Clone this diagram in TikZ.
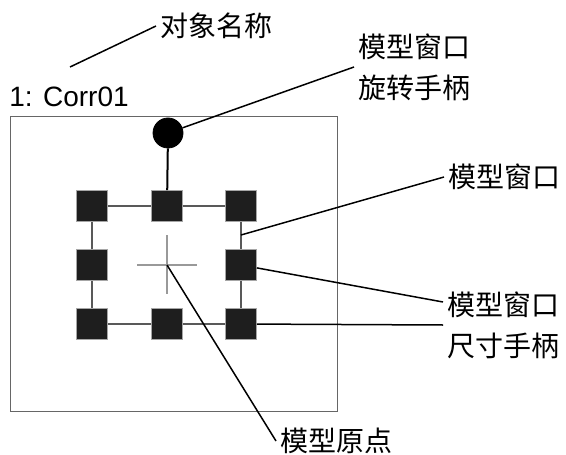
\documentclass[tikz,border=0pt]{standalone}
\usepackage{fontspec}
\setmainfont{Liberation Sans}
\newfontfamily\cjk{Noto Sans CJK SC}
\usepackage{tikz}
\usetikzlibrary{positioning}
\definecolor{ink}{HTML}{1E1E1E}

\begin{document}
\begin{tikzpicture}[
  x=0.5pt, y=-0.5pt,
  handle/.style={rectangle, draw=gray!70, line width=0.3pt, fill=ink, minimum size=15.5pt, inner sep=0pt},
  rotknob/.style={circle, draw=black, fill=black, minimum size=15pt, inner sep=0pt},
  frame/.style={draw=gray!80!black, line width=0.5pt},
  edge/.style={draw=gray!70!black, line width=0.6pt},
  leader/.style={draw=black, line width=0.75pt},
  lbl/.style={anchor=west, font=\fontsize{14}{20.5}\selectfont\cjk, align=left, inner sep=2pt}
]
  \useasboundingbox (0,0) rectangle (566,454);

  % Object frame and name
  \draw[frame] (10,117) rectangle (337,411);
  \node[anchor=west, font=\fontsize{14}{17}\selectfont, inner sep=0pt] (objname) at (9,97) {1: Corr01};

  % Size handles
  \node[handle] (nw) at (92,206) {};
  \node[handle] (n)  at (167,206) {};
  \node[handle] (ne) at (241,206) {};
  \node[handle] (w)  at (92,265) {};
  \node[handle] (e)  at (241,265) {};
  \node[handle] (sw) at (92,324) {};
  \node[handle] (s)  at (167,324) {};
  \node[handle] (se) at (241,324) {};
  \draw[edge] (nw) -- (n) -- (ne) -- (e) -- (se) -- (s) -- (sw) -- (w) -- (nw);

  % Rotation handle
  \node[rotknob] (rot) at (168,133) {};
  \draw[black, line width=1pt] (rot) -- (n);

  % Model origin
  \coordinate (origin) at (167,265);
  \draw[gray!80, line width=0.6pt] (137,265) -- (197,265);
  \draw[gray!80, line width=0.6pt] (167,235) -- (167,294);

  % Labels
  \node[lbl] (namelbl) at (156,26) {对象名称};
  \node[lbl] (rotlbl) at (354,67) {模型窗口\\旋转手柄};
  \node[lbl] (winlbl) at (444,177) {模型窗口};
  \node[lbl] (sizelbl) at (443,325) {模型窗口\\尺寸手柄};
  \node[lbl] (orilbl) at (276,441) {模型原点};

  % Leaders
  \coordinate (namept) at (70,67);
  \coordinate (winpt) at (241,235);
  \draw[leader] (namept) -- (namelbl.west);
  \draw[leader] (rot) -- (rotlbl.west);
  \draw[leader] (winpt) -- (winlbl.west);
  \draw[leader] (e) -- ([yshift=11.5pt]sizelbl.west);
  \draw[leader] (se) -- (sizelbl.west);
  \draw[leader] (origin) -- (orilbl.west);

\end{tikzpicture}
\end{document}
